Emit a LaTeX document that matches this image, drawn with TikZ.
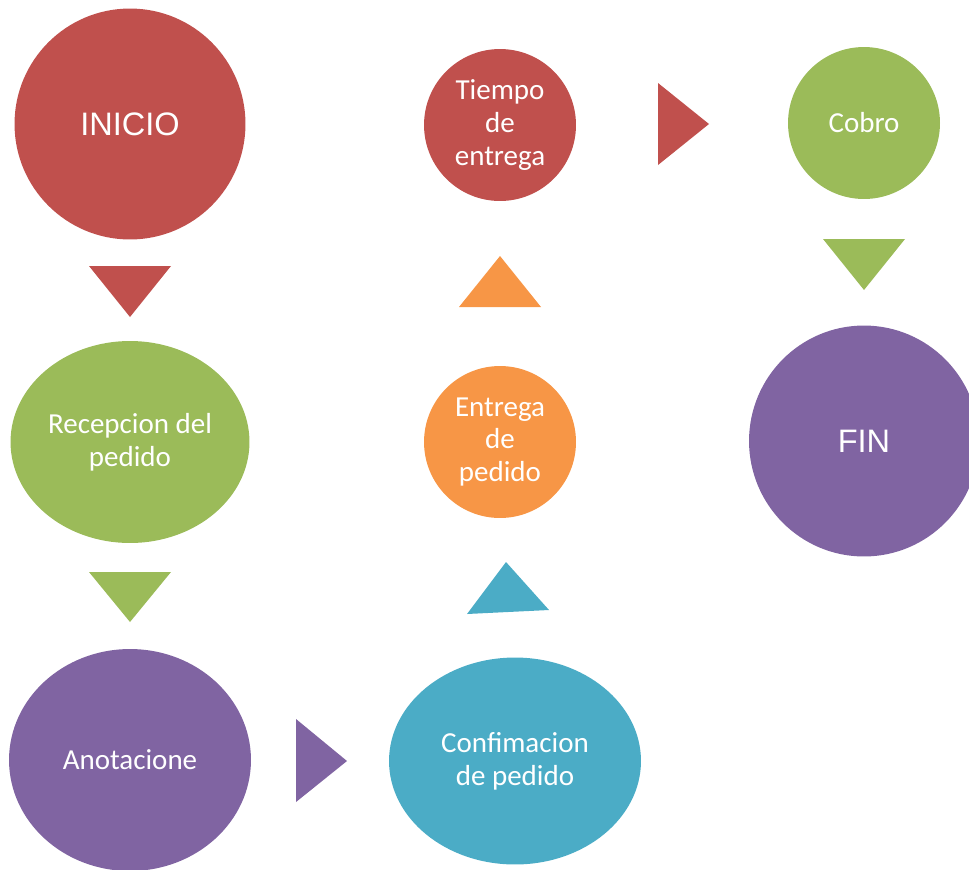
\documentclass[tikz,border=0pt]{standalone}
\usepackage{fontspec}
\setmainfont{Carlito}
\newfontfamily\arialfont{Liberation Sans}
\usetikzlibrary{shapes.geometric}
\definecolor{rojo}{HTML}{C0504D}
\definecolor{verde}{HTML}{9BBB59}
\definecolor{morado}{HTML}{8064A2}
\definecolor{celeste}{HTML}{4BACC6}
\definecolor{naranja}{HTML}{F79646}
\tikzset{
  paso/.style={ellipse, inner sep=0pt, text=white, align=center,
    font=\fontsize{16.5}{18.6}\selectfont},
  extremo/.style={paso, font=\arialfont\fontsize{18.5}{22}\selectfont}
}
\begin{document}
\begin{tikzpicture}[x=0.02cm,y=-0.02cm]
    \useasboundingbox (0,0) rectangle (969,869);
    % primera columna
    \node [extremo, fill=rojo, minimum width=4.62cm, minimum height=4.62cm] (inicio) at (130,124) {INICIO};
    \node [paso, fill=verde, minimum width=4.78cm, minimum height=4.04cm] (recepcion) at (130,442) {Recepcion del\\pedido};
    \node [paso, fill=morado, minimum width=4.84cm, minimum height=4.44cm] (anotacion) at (130,760) {Anotacione};
    \fill [rojo] (89,266)--(171,266)--(130,317)--cycle;
    \fill [verde] (89,572)--(171,572)--(130,622)--cycle;
    \fill [morado] (296,719)--(347,761)--(296,802)--cycle;
    % segunda columna
    \node [paso, fill=celeste, minimum width=5.04cm, minimum height=4.14cm] (confirmacion) at (515,761) {Confimacion\\de pedido};
    \node [paso, fill=naranja, minimum width=3.04cm, minimum height=3.04cm] (entrega) at (500,442) {Entrega\\de\\pedido};
    \node [paso, fill=rojo, minimum width=3.04cm, minimum height=3.04cm] (tiempo) at (500,125) {Tiempo\\de\\entrega};
    \fill [celeste] (467,614)--(549,610)--(506,562)--cycle;
    \fill [naranja] (459,307)--(541,307)--(500,256)--cycle;
    \fill [rojo] (658,83)--(709,124)--(658,165)--cycle;
    % tercera columna
    \node [paso, fill=verde, minimum width=3.04cm, minimum height=3.04cm] (cobro) at (864,123) {Cobro};
    \node [extremo, fill=morado, minimum width=4.6cm, minimum height=4.62cm] (fin) at (864,441) {FIN};
    \fill [verde] (823,239)--(905,239)--(864,290)--cycle;
\end{tikzpicture}
\end{document}
